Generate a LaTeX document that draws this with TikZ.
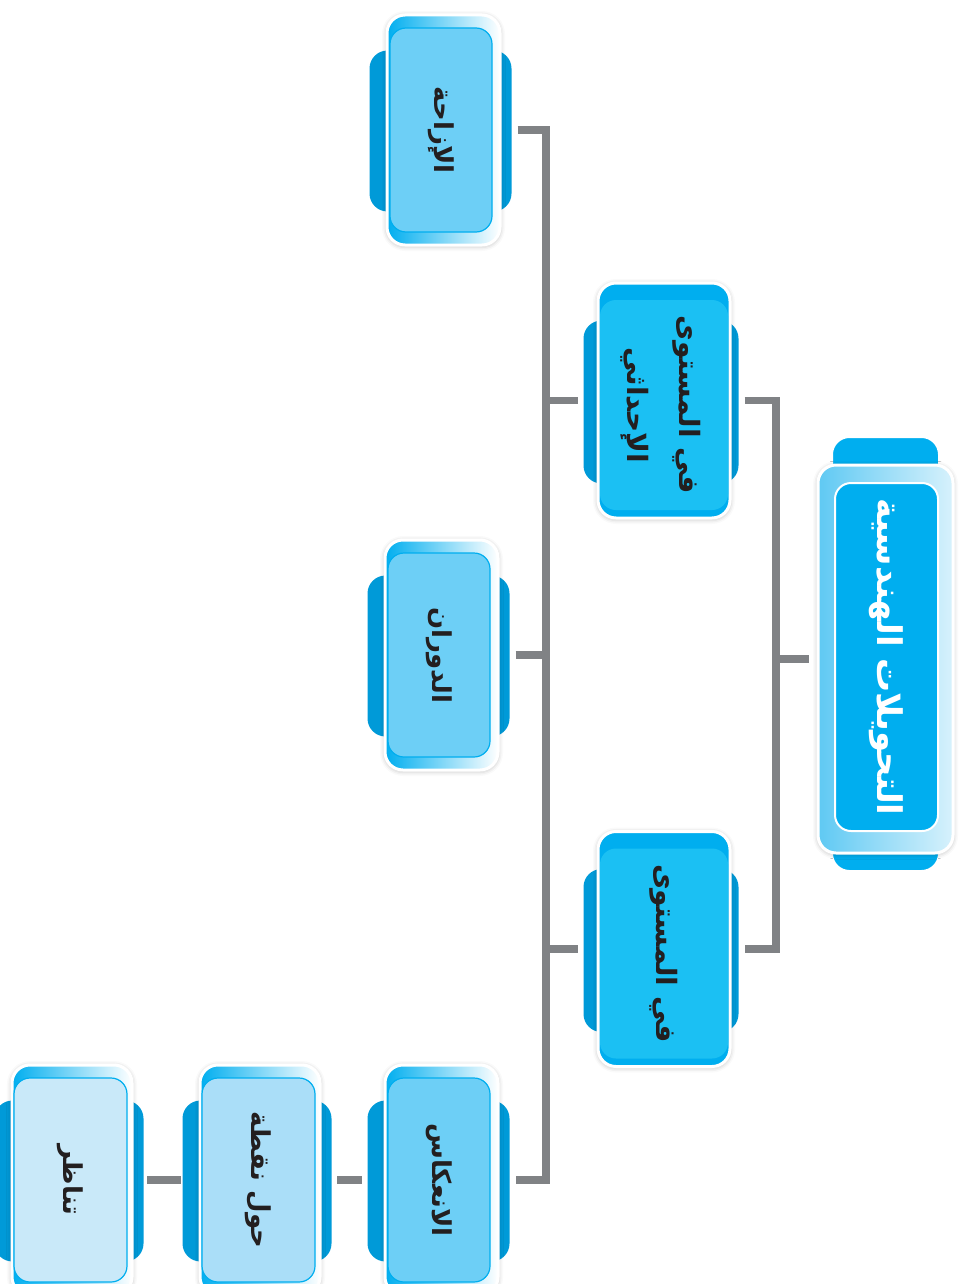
\documentclass[tikz,border=0pt]{standalone}
\usepackage{fontspec}
\newfontfamily\arabicfont[Script=Arabic]{DejaVu Sans}
\TeXXeTstate=1
\usetikzlibrary{shadows.blur}
\pgfdeclarelayer{background}
\pgfsetlayers{background,main}

\definecolor{cyanA}{HTML}{00AEEF}
\definecolor{tabblue}{HTML}{009AD8}
\definecolor{lvlone}{HTML}{1BC0F3}
\definecolor{lvltwo}{HTML}{6DCFF6}
\definecolor{lvlthree}{HTML}{AADEF8}
\definecolor{lvlfour}{HTML}{C9E9F9}
\definecolor{rootlight}{HTML}{5FC9F3}
\definecolor{linkgray}{HTML}{808285}
\definecolor{inkblack}{HTML}{231F20}

\newcommand\artxt[2][26]{\rotatebox{-90}{\fontsize{#1}{#1}\selectfont\arabicfont\bfseries\beginR #2\endR}}

\begin{document}
\begin{tikzpicture}
  [x=1pt,y=-1pt,
    card/.style={draw=white,line width=3pt,rounded corners=18pt,
      blur shadow={shadow xshift=0pt,shadow yshift=-1pt,
        shadow blur radius=5pt,shadow opacity=30}},
    inner/.style={rounded corners=16pt,draw=cyanA,line width=1.2pt,
      inner sep=0pt,text=inkblack},
    c1/.style={card,fill=cyanA,minimum width=132pt,minimum height=235pt},
    c2/.style={card,left color=cyanA,right color=white,
      minimum width=113pt,minimum height=230pt},
    c3/.style={c2,minimum width=120pt},
    cr/.style={card,left color=rootlight,right color=rootlight!25,
      minimum width=135pt,minimum height=388pt},
    i1/.style={inner,draw=none,fill=lvlone,minimum width=128pt,
      minimum height=210pt,yshift=-4.5pt},
    i2/.style={inner,fill=lvltwo,minimum width=102pt,
      minimum height=204pt,xshift=-2.5pt},
    i3/.style={inner,fill=#1,minimum width=113pt,
      minimum height=204pt,xshift=-1.5pt},
    ir/.style={inner,fill=cyanA,draw=white,line width=2pt,text=white,
      minimum width=103pt,minimum height=348pt,xshift=1pt,yshift=2pt},
    tab/.style={fill=tabblue,rounded corners=18pt},
    link/.style={draw=linkgray,line width=7.5pt,line join=miter}]
  \useasboundingbox (0,0) rectangle (961,1284);

  \node[cr] (rt) at (885.5,659) {};
  \node[ir] (rt-t) at (rt) {\artxt[34]{التحويلات الهندسية}};

  \node[c1] (p2) at (664,400.5) {};
  \node[i1] (p2-t) at (p2) {\rotatebox{-90}{\fontsize{28}{52}\selectfont
      \arabicfont\bfseries\begin{tabular}{c}
        \beginR في المستوى\endR\\ \beginR الإحداثي\endR
      \end{tabular}}};
  \node[c1] (p1) at (664,949) {};
  \node[i1] (p1-t) at (p1) {\artxt[28]{في المستوى}};

  \node[c2] (lz) at (443.5,130) {};
  \node[i2] (lz-t) at (lz) {\artxt{الإزاحة}};
  \node[c2] (ld) at (441.5,655) {};
  \node[i2] (ld-t) at (ld) {\artxt{الدوران}};
  \node[c2] (lk) at (441.5,1180) {};
  \node[i2] (lk-t) at (lk) {\artxt{الانعكاس}};

  \node[c3] (hn) at (260,1180) {};
  \node[i3=lvlthree] (hn-t) at (hn) {\artxt{حول نقطة}};
  \node[c3] (tn) at (72,1180) {};
  \node[i3=lvlfour] (tn-t) at (tn) {\artxt{تناظر}};

  \begin{pgfonlayer}{background}
    \foreach \n in {lz,ld,lk,hn,tn}
      \fill[tab] ([xshift=-16pt,yshift=-37pt]\n.north west)
        rectangle ([xshift=10pt,yshift=35pt]\n.south east);
    \foreach \n in {p1,p2}
      \fill[tab] ([xshift=-13pt,yshift=-39pt]\n.north west)
        rectangle ([xshift=7pt,yshift=36pt]\n.south east);
    \filldraw[tab,fill=cyanA,draw=white,line width=3pt]
      ([xshift=15pt,yshift=27pt]rt.north west)
      rectangle ([xshift=-15pt,yshift=-17pt]rt.south east);
  \end{pgfonlayer}

  \coordinate (b1) at (776,655);
  \coordinate (b2) at (546,655);
  \draw[link] ([xshift=-8pt]rt.west) -- (rt -| b1);
  \draw[link] ([xshift=13pt]p2.east) -| (b1) |- ([xshift=13pt]p1.east);
  \draw[link] ([xshift=16pt]lz.east) -| (b2) |- ([xshift=16pt]lk.east);
  \draw[link] ([xshift=16pt]ld.east) -- (ld -| b2);
  \draw[link] ([xshift=-19pt]p2.west) -- (p2 -| b2);
  \draw[link] ([xshift=-19pt]p1.west) -- (p1 -| b2);
  \draw[link] ([xshift=-22pt]lk.west) -- ([xshift=15pt]hn.east);
  \draw[link] ([xshift=-18pt]hn.west) -- ([xshift=13pt]tn.east);
\end{tikzpicture}
\end{document}
